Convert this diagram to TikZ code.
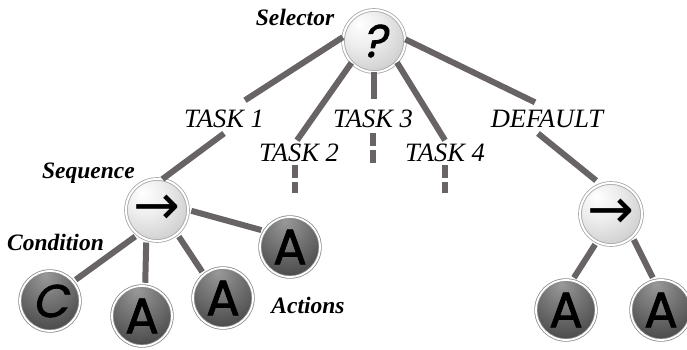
\documentclass[tikz,border=0pt]{standalone}
\usepackage{fontspec}
\setmainfont{Liberation Serif}
\newfontfamily\labelfont{Liberation Serif}
\newfontfamily\glyphfont{Poppins}[FakeBold=1.6]
\newfontfamily\glyphslant{Poppins}[FakeBold=1.6, FakeSlant=0.22]
\newfontfamily\arrowfont{DejaVu Sans}

\definecolor{linkgray}{RGB}{104,99,100}

% light fill for composite nodes, dark fill for leaf nodes
\pgfdeclareradialshading{innerlight}{\pgfpoint{-12bp}{14bp}}{%
  color(0bp)=(white); color(16bp)=(black!7); color(40bp)=(black!22);
  color(56bp)=(black!30); color(80bp)=(black!34)}
\pgfdeclareradialshading{innerdark}{\pgfpoint{-4bp}{22bp}}{%
  color(0bp)=(black!40); color(24bp)=(black!60); color(50bp)=(black!82);
  color(80bp)=(black!90)}

\begin{document}
\begin{tikzpicture}[x=1pt,y=-1pt,
  composite/.style={circle, minimum size=62pt, inner sep=0pt, shading=innerlight,
    draw=black!35, double=white, double distance=2pt, line width=0.8pt},
  leaf/.style={circle, minimum size=60pt, inner sep=0pt, shading=innerdark,
    draw=black!45, double=white, double distance=1.8pt, line width=0.8pt,
    font=\glyphfont\fontsize{50}{50}\selectfont},
  seqnode/.style={composite, font=\arrowfont\fontsize{56}{56}\selectfont},
  tasklabel/.style={font=\labelfont\itshape\fontsize{26.5}{26.5}\selectfont, inner sep=0pt, anchor=base},
  rolelabel/.style={font=\labelfont\bfseries\itshape\fontsize{23.5}{23.5}\selectfont, inner sep=0pt, anchor=base},
  link/.style={draw=linkgray, line width=6pt},
  stub/.style={link, dash pattern=on 13pt off 4pt},
  gap/.style={shorten <=3pt, shorten >=3pt}]

\useasboundingbox (0,0) rectangle (687,350);

% tree nodes
\node[composite, font=\glyphslant\fontsize{46}{46}\selectfont] (sel) at (374,41) {?};
\node[seqnode] (seqL) at (157,210) {→};
\node[seqnode] (seqR) at (611,214) {→};
\node[leaf, font=\glyphslant\fontsize{46}{46}\selectfont] (lc) at (50,301) {C};
\node[leaf] (la1) at (142,316) {A};
\node[leaf] (la2) at (223,298) {A};
\node[leaf] (la3) at (290,247) {A};
\node[leaf] (lr1) at (566,310) {A};
\node[leaf] (lr2) at (661,310) {A};

% role labels
\node[rolelabel] (lsel) at (295,26)  {Selector};
\node[rolelabel] (lseq) at (88.5,178) {Sequence};
\node[rolelabel] (lcon) at (55.5,250) {Condition};
\node[rolelabel] (lact) at (308,313) {Actions};

% branch labels
\node[tasklabel] (t1)   at (224,127) {TASK 1};
\node[tasklabel] (t2)   at (299,161) {TASK 2};
\node[tasklabel] (t3)   at (373,127) {TASK 3};
\node[tasklabel] (t4)   at (445,161) {TASK 4};
\node[tasklabel] (tdef) at (547,127) {DEFAULT};

% loose ends of the unexpanded branches
\coordinate (e2) at (295,193);
\coordinate (e3) at (373,163);
\coordinate (e4) at (445,193);

% selector branches
\draw[link] (sel.173) -- ([xshift=21pt,yshift=9pt]t1.north);
\draw[link] ([yshift=-6pt]t1.south) -- (seqL.80);
\draw[link] (sel.224) -- ([xshift=-2pt,yshift=3pt]t2.north);
\draw[stub] ([xshift=-4pt,yshift=-4pt]t2.south) -- (e2);
\draw[link] (sel.south) -- ([xshift=1pt,yshift=10pt]t3.north);
\draw[stub] ([yshift=-6pt]t3.south) -- (e3);
\draw[link] (sel.317) -- ([yshift=3pt]t4.north);
\draw[stub] ([yshift=-4pt]t4.south) -- (e4);
\draw[link] (sel.3) -- ([xshift=-12pt,yshift=7pt]tdef.north);
\draw[link, shorten >=6pt] ([xshift=-9pt,yshift=-6pt]tdef.south) -- (seqR.109);

% sequence children
\draw[link, gap] (seqL.232) -- (lc.40);
\draw[link, gap] (seqL.250) -- (la1.84);
\draw[link, gap] (seqL.310) -- (la2.129);
\draw[link, gap] (seqL.0)   -- (la3.148);
\draw[link, gap] (seqR.243) -- (lr1.78);
\draw[link, gap] (seqR.313) -- (lr2.103);

\end{tikzpicture}
\end{document}
